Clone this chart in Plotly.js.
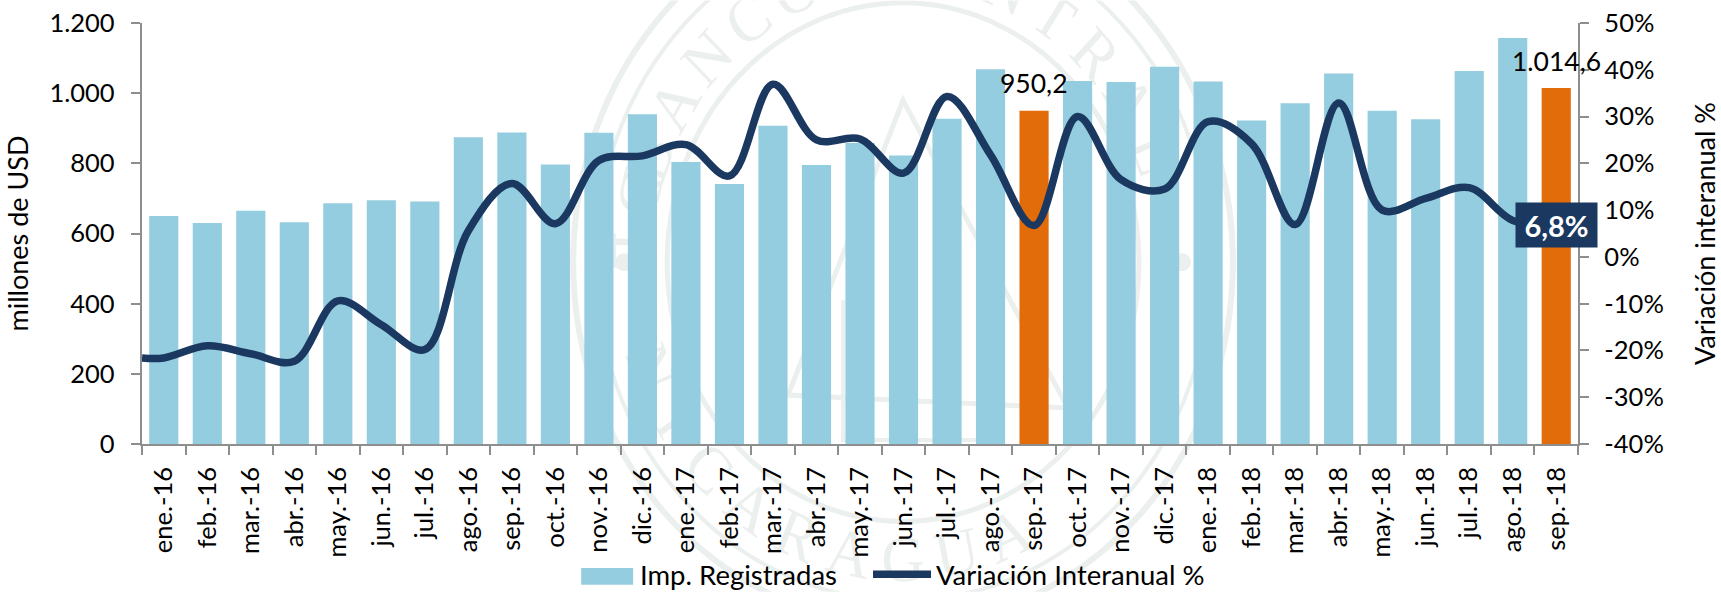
<!DOCTYPE html>
<html><head><meta charset="utf-8">
<script src="https://cdn.plot.ly/plotly-3.0.1.min.js"></script>
<style>html,body{margin:0;padding:0;background:#fff}#c{width:1721px;height:592px}</style>
</head><body><div id="c"></div>
<script>
const months = ["ene.-16","feb.-16","mar.-16","abr.-16","may.-16","jun.-16","jul.-16","ago.-16","sep.-16","oct.-16","nov.-16","dic.-16","ene.-17","feb.-17","mar.-17","abr.-17","may.-17","jun.-17","jul.-17","ago.-17","sep.-17","oct.-17","nov.-17","dic.-17","ene.-18","feb.-18","mar.-18","abr.-18","may.-18","jun.-18","jul.-18","ago.-18","sep.-18"];
const imports = [650,630,665,632,686,695,691,874,888,797,887,940,804,741,907,795,858,822,927,1068,950.2,1035,1032,1075,1033,922,971,1056,950,926,1063,1157,1014.6];
const variation = [-21.6,-19,-20.7,-22.3,-9.4,-14.5,-19.8,5.6,15.7,7.1,20.6,21.6,24,17.3,36.9,25,25.2,17.9,34.3,21.8,6.7,30,16.5,14.5,28.9,24.2,6.9,32.9,10,12.5,14.8,7.8,6.8];
const lineStartValue = -21.6;
const highlighted = ["sep.-17","sep.-18"];
const yTicks = [0,200,400,600,800,1000,1200];
const yTickText = ["0","200","400","600","800","1.000","1.200"];
const y2Ticks = [-40,-30,-20,-10,0,10,20,30,40,50];
const sealTop = "BANCO CENTRAL";
const sealBottom = "DE NICARAGUA";

const BLUE="#94cddf", ORANGE="#e36c0a", NAVY="#1a3860", AXIS="#8e8e8e", FONT="Lato, 'Open Sans', sans-serif", SEAL="#ebefed";
const W=1721,H=592,ML=141.6,MR=142.7,MT=22.6,MB=148;

// Faint institutional seal behind the chart
function sealSvg(){
  const cx=903,cy=262,k=1.1;
  const ring=(r,w)=>`<ellipse cx="${cx}" cy="${cy}" rx="${r}" ry="${r*k}" fill="none" stroke="${SEAL}" stroke-width="${w}"/>`;
  let s=ring(330,6)+ring(308,4)+ring(236,5);
  const letter=(c,tf)=>`<text transform="translate(${cx} ${cy}) scale(1 ${k}) ${tf}" text-anchor="middle" font-family="Liberation Serif" font-size="60" fill="${SEAL}">${c}</text>`;
  [...sealTop].forEach((c,i)=>{ s+=letter(c,`rotate(${-69.5+i*11.5}) translate(0 -250)`); });
  [...sealBottom].forEach((c,i)=>{ s+=letter(c,`rotate(${(9-i)*11.5}) translate(0 290)`); });
  s+=`<circle cx="${cx-279}" cy="${cy}" r="9" fill="${SEAL}"/><circle cx="${cx+279}" cy="${cy}" r="9" fill="${SEAL}"/>`;
  s+=`<path d="M${cx} 100L${cx+165} 408L${cx-115} 395Z" fill="none" stroke="${SEAL}" stroke-width="5"/>`;
  s+=`<path d="M${cx-60} 300V440H${cx+100}V300" fill="none" stroke="${SEAL}" stroke-width="4"/>`;
  return "data:image/svg+xml;charset=utf-8,"+encodeURIComponent(`<svg xmlns="http://www.w3.org/2000/svg" width="${W}" height="${H}" viewBox="0 0 ${W} ${H}">${s}</svg>`);
}

const lineX = [-0.5].concat(months.map((m,i)=>i));
const lineY = [lineStartValue].concat(variation);

const traces = [
 {type:"bar",name:"Imp. Registradas",x:months,y:imports,xaxis:"x",yaxis:"y",legend:"legend",
  marker:{color:months.map(m=>highlighted.includes(m)?ORANGE:BLUE)},hoverinfo:"x+y"},
 {type:"scatter",mode:"lines",name:"Variación Interanual %",x:lineX,y:lineY,xaxis:"x2",yaxis:"y2",legend:"legend2",
  line:{color:NAVY,width:7.5,shape:"spline",smoothing:1}}
];
const annotations = highlighted.map(m=>{
  const i=months.indexOf(m);
  return {x:m,y:imports[i],xref:"x",yref:"y",yanchor:"bottom",yshift:9.5,showarrow:false,
    text:imports[i].toFixed(1).replace(".",",").replace(/^(\d)(\d{3})/,"$1.$2"),font:{family:FONT,size:26.5,color:"#000"}};
});
annotations.push({x:months.length-1,y:variation[variation.length-1],xref:"x2",yref:"y2",showarrow:false,
  text:"<b>"+variation[variation.length-1].toFixed(1).replace(".",",")+"%</b>",
  font:{family:FONT,size:29,color:"#fff"},bgcolor:NAVY,borderpad:3,width:75,height:38});

const PW=W-ML-MR, PH=H-MT-MB;
const legendBase={orientation:"h",xref:"container",yref:"container",xanchor:"left",y:0.071,yanchor:"top",itemwidth:58,
   font:{family:FONT,size:27.5,color:"#000"},bgcolor:"rgba(0,0,0,0)",itemclick:false,itemdoubleclick:false};
const layout = {
 width:W,height:H,paper_bgcolor:"#fff",plot_bgcolor:"rgba(0,0,0,0)",
 margin:{l:ML,r:MR,t:MT,b:MB,pad:0},
 font:{family:FONT,size:25.5,color:"#000"},bargap:0.33,showlegend:true,
 legend:Object.assign({},legendBase,{x:572/W}),
 legend2:Object.assign({},legendBase,{x:868/W}),
 images:[{source:sealSvg(),xref:"paper",yref:"paper",x:-ML/PW,y:1+MT/PH,sizex:W/PW,sizey:H/PH,xanchor:"left",yanchor:"top",sizing:"stretch",layer:"below"}],
 shapes:[{type:"rect",xref:"paper",yref:"paper",x0:(581-ML)/PW,x1:(633-ML)/PW,y0:-(585-MT-PH)/PH,y1:-(568-MT-PH)/PH,fillcolor:BLUE,line:{width:0},layer:"below"}],
 xaxis:{type:"category",tickson:"boundaries",tickangle:-90,ticks:"outside",ticklen:9,tickwidth:1.5,tickcolor:AXIS,ticklabelstandoff:11,
   showline:true,linecolor:AXIS,linewidth:1.5,showgrid:false,tickfont:{family:FONT,size:25.5},automargin:false,categoryorder:"array",categoryarray:months,range:[-0.5,32.5]},
 xaxis2:{overlaying:"x",type:"linear",range:[-0.5,32.5],visible:false,fixedrange:true},
 yaxis:{range:[0,1200],tickvals:yTicks,ticktext:yTickText,ticks:"outside",ticklen:9.5,tickwidth:1.5,tickcolor:AXIS,ticklabelstandoff:11,
   showline:true,linecolor:AXIS,linewidth:1.5,showgrid:false,zeroline:false,automargin:false,tickfont:{family:FONT,size:25.5},
   title:{text:"millones de USD",font:{family:FONT,size:27},standoff:13}},
 yaxis2:{overlaying:"y",side:"right",anchor:"x2",range:[-40,50],tickvals:y2Ticks,ticktext:y2Ticks.map(v=>v+"%"),ticks:"outside",ticklen:9.5,tickwidth:1.5,tickcolor:AXIS,ticklabelstandoff:10,
   showline:true,linecolor:AXIS,linewidth:1.5,showgrid:false,zeroline:false,automargin:false,tickfont:{family:FONT,size:25.5},
   title:{text:"Variación interanual %",font:{family:FONT,size:27},standoff:35}},
 annotations:annotations
};
Plotly.newPlot("c",traces,layout,{displayModeBar:false,responsive:false});
</script></body></html>
